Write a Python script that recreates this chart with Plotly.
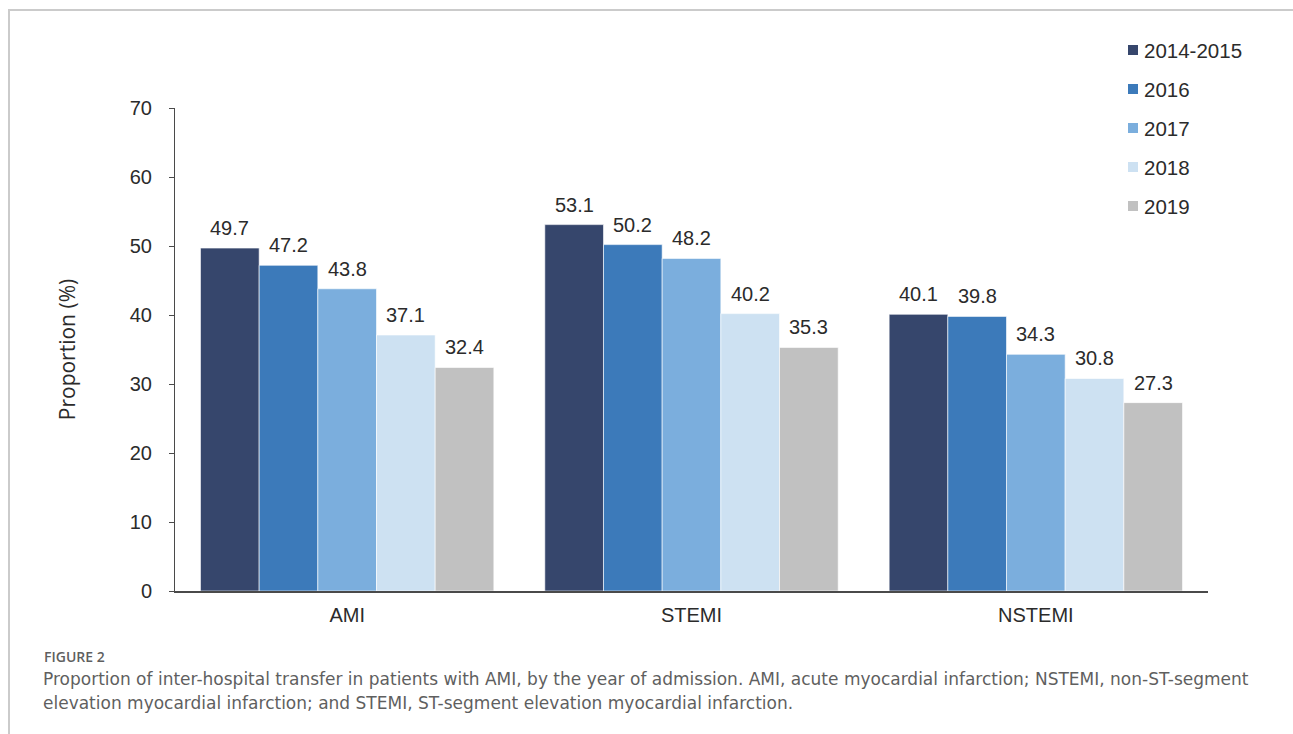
import plotly.graph_objects as go

# Inter-hospital transfer proportion (%) by diagnosis and year of admission
categories = ["AMI", "STEMI", "NSTEMI"]
years = ["2014-2015", "2016", "2017", "2018", "2019"]
values = {
    "2014-2015": [49.7, 53.1, 40.1],
    "2016": [47.2, 50.2, 39.8],
    "2017": [43.8, 48.2, 34.3],
    "2018": [37.1, 40.2, 30.8],
    "2019": [32.4, 35.3, 27.3],
}
colors = ["#36466c", "#3c7aba", "#7baedd", "#cde1f2", "#c1c1c1"]

W, H = 1293, 734
L, R, T, B = 175, 1208, 108, 591
BARGAP = 0.148
ARIAL = "Liberation Sans, Arial"
TXT = "#2b2b2b"


def px(x):
    return (x - L) / (R - L)


def py(y):
    return (B - y) / (B - T)


fig = go.Figure()
for yr, col in zip(years, colors):
    fig.add_trace(go.Bar(
        name=yr,
        x=categories,
        y=values[yr],
        marker=dict(color=col, line=dict(color="rgba(255,255,255,0.6)", width=1)),
        cliponaxis=False,
    ))

# Value labels above each bar, offset to the bar's slot within its group
cat_px = (R - L) / len(categories)
bar_px = cat_px * (1 - BARGAP) / len(years)
for i, yr in enumerate(years):
    for cat, v in zip(categories, values[yr]):
        fig.add_annotation(
            x=cat, y=v, xref="x", yref="y",
            xshift=(i - (len(years) - 1) / 2) * bar_px, yshift=7,
            xanchor="center", yanchor="bottom", showarrow=False,
            text=f"{v:.1f}", font=dict(family=ARIAL, size=20, color=TXT),
        )

fig.update_layout(
    width=W, height=H,
    margin=dict(l=L, r=W - R, t=T, b=H - B, pad=0),
    paper_bgcolor="white", plot_bgcolor="white",
    barmode="group", bargap=BARGAP, bargroupgap=0,
    font=dict(family=ARIAL, size=20, color=TXT),
    showlegend=False,
    xaxis=dict(
        showline=True, linecolor="#4a4a4a", linewidth=2,
        ticks="", tickfont=dict(size=20), ticklabelstandoff=5,
        fixedrange=True,
    ),
    yaxis=dict(
        range=[0, 70], dtick=10, showgrid=False, zeroline=False,
        showline=True, linecolor="#4a4a4a", linewidth=1,
        ticks="outside", ticklen=5, tickcolor="#4a4a4a",
        tickfont=dict(size=20), ticklabelstandoff=13,
        title=dict(text="Proportion (%)", standoff=48,
                   font=dict(family="Open Sans", size=21, color=TXT)),
    ),
)

# Legend: colour swatch plus label per year
leg_y = [50, 89, 128, 167, 206]
for yr, col, yy in zip(years, colors, leg_y):
    fig.add_shape(type="rect", xref="paper", yref="paper",
                  x0=px(1128), x1=px(1138), y0=py(yy + 5), y1=py(yy - 5),
                  fillcolor=col, line=dict(width=0))
    fig.add_annotation(x=px(1142), y=py(yy), xref="paper", yref="paper",
                       xanchor="left", yanchor="middle", showarrow=False,
                       text=yr, font=dict(family=ARIAL, size=20.5, color=TXT))

# Figure frame (left and top rules)
fig.add_shape(type="path", xref="paper", yref="paper",
              path=f"M {px(9)} {py(H + 5)} L {px(9)} {py(10)} L {px(W + 5)} {py(10)}",
              line=dict(color="#cbcbcb", width=2))

# Caption
cap_font = "DejaVu Sans"
cap_col = "#5f5f5f"
fig.add_annotation(x=px(42), y=py(656), xref="paper", yref="paper",
                   xanchor="left", yanchor="middle", showarrow=False,
                   text="FIGURE 2",
                   font=dict(family="Open Sans", size=14, color=cap_col, weight=600))
fig.add_annotation(x=px(41), y=py(679), xref="paper", yref="paper",
                   xanchor="left", yanchor="middle", showarrow=False,
                   text="Proportion of inter-hospital transfer in patients with AMI, by the year of admission. "
                        "AMI, acute myocardial infarction; NSTEMI, non-ST-segment",
                   font=dict(family=cap_font, size=17, color=cap_col))
fig.add_annotation(x=px(41), y=py(703), xref="paper", yref="paper",
                   xanchor="left", yanchor="middle", showarrow=False,
                   text="elevation myocardial infarction; and STEMI, ST-segment elevation myocardial infarction.",
                   font=dict(family=cap_font, size=17, color=cap_col))

fig.write_html("out.html")
